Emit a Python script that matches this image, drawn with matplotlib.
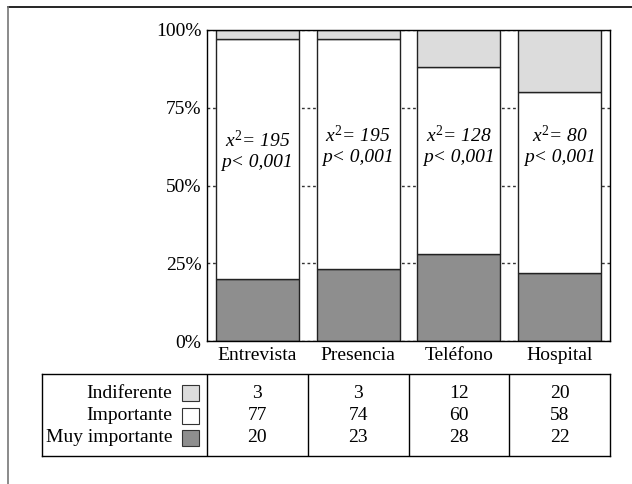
import numpy as np
import matplotlib.pyplot as plt
from matplotlib.patches import Rectangle
from matplotlib.lines import Line2D

plt.rcParams['font.family'] = ['Liberation Serif', 'DejaVu Serif']
plt.rcParams['font.size'] = 14
plt.rcParams['mathtext.fontset'] = 'custom'
plt.rcParams['mathtext.it'] = 'Liberation Serif:italic'
plt.rcParams['mathtext.rm'] = 'Liberation Serif'

# datos (%)
categorias = ['Entrevista', 'Presencia', 'Teléfono', 'Hospital']
series = ['Indiferente', 'Importante', 'Muy importante']
indiferente = [3, 3, 12, 20]
importante = [77, 74, 60, 58]
muy_importante = [20, 23, 28, 22]
chi2 = ['195', '195', '128', '80']
p_val = ['0,001', '0,001', '0,001', '0,001']
colores = ['#dcdcdc', '#ffffff', '#8e8e8e']

W, H = 632, 484
fig = plt.figure(figsize=(W / 100, H / 100), dpi=100)

# marco de la figura (solo arriba e izquierda)
fig.add_artist(Line2D([8 / W, 1], [1 - 7 / H, 1 - 7 / H], color='black', lw=1.2))
fig.add_artist(Line2D([8 / W, 8 / W], [0, 1 - 7 / H], color='#777777', lw=1.2))

ax = fig.add_axes([207 / W, 1 - 341 / H, 403 / W, 311 / H])
x = np.arange(len(categorias))
ancho = 0.824

abajo = np.zeros(len(categorias))
for vals, col in zip([muy_importante, importante, indiferente], [colores[2], colores[1], colores[0]]):
    ax.bar(x, vals, ancho, bottom=abajo, color=col, edgecolor='#222222', linewidth=1, zorder=3)
    abajo += np.array(vals)

ax.set_xlim(-0.5, 3.5)
ax.set_ylim(0, 100)
ax.set_yticks([0, 25, 50, 75, 100])
ax.set_yticklabels(['0%', '25%', '50%', '75%', '100%'])
ax.set_xticks(x)
ax.set_xticklabels(categorias)
ax.tick_params(length=0, pad=4)
ax.yaxis.grid(True, linestyle=(0, (2, 2)), color='#333333', linewidth=1, zorder=0)
ax.set_axisbelow(True)
for s in ax.spines.values():
    s.set_linewidth(1)
    s.set_zorder(4)

for i in range(len(categorias)):
    yc = 61.0 if i == 0 else 62.5
    ax.text(x[i], yc + 3.6, f'$x^2$= {chi2[i]}', ha='center', va='center',
            style='italic', fontsize=14, zorder=5)
    ax.text(x[i], yc - 3.6, f'p< {p_val[i]}', ha='center', va='center',
            style='italic', fontsize=14, zorder=5)

# tabla
tl, tr, tt, tb = 42, 610, 374, 456
tax = fig.add_axes([tl / W, 1 - tb / H, (tr - tl) / W, (tb - tt) / H])
px = 403 / 4.0
tax.set_xlim(-0.5 - (207 - tl) / px, 3.5)
tax.set_ylim(tb - tt, 0)
tax.set_xticks([])
tax.set_yticks([])
for s in tax.spines.values():
    s.set_linewidth(1)

for xv in np.arange(-0.5, 3.5, 1.0):
    tax.axvline(xv, color='black', lw=1)

filas_y = [19, 41.5, 64]
valores = [indiferente, importante, muy_importante]
lab_x = -0.5 + (172 - 207) / px
sw_x0 = -0.5 + (182 - 207) / px
sw_w = 17 / px
for j, nombre in enumerate(series):
    tax.text(lab_x, filas_y[j], nombre, ha='right', va='center', fontsize=14)
    tax.add_patch(Rectangle((sw_x0, filas_y[j] - 8), sw_w, 16, facecolor=colores[j],
                            edgecolor='#333333', lw=0.8))
    for i in range(len(categorias)):
        tax.text(x[i], filas_y[j], str(valores[j][i]), ha='center', va='center', fontsize=14)

fig.savefig('out.png', dpi=100)
